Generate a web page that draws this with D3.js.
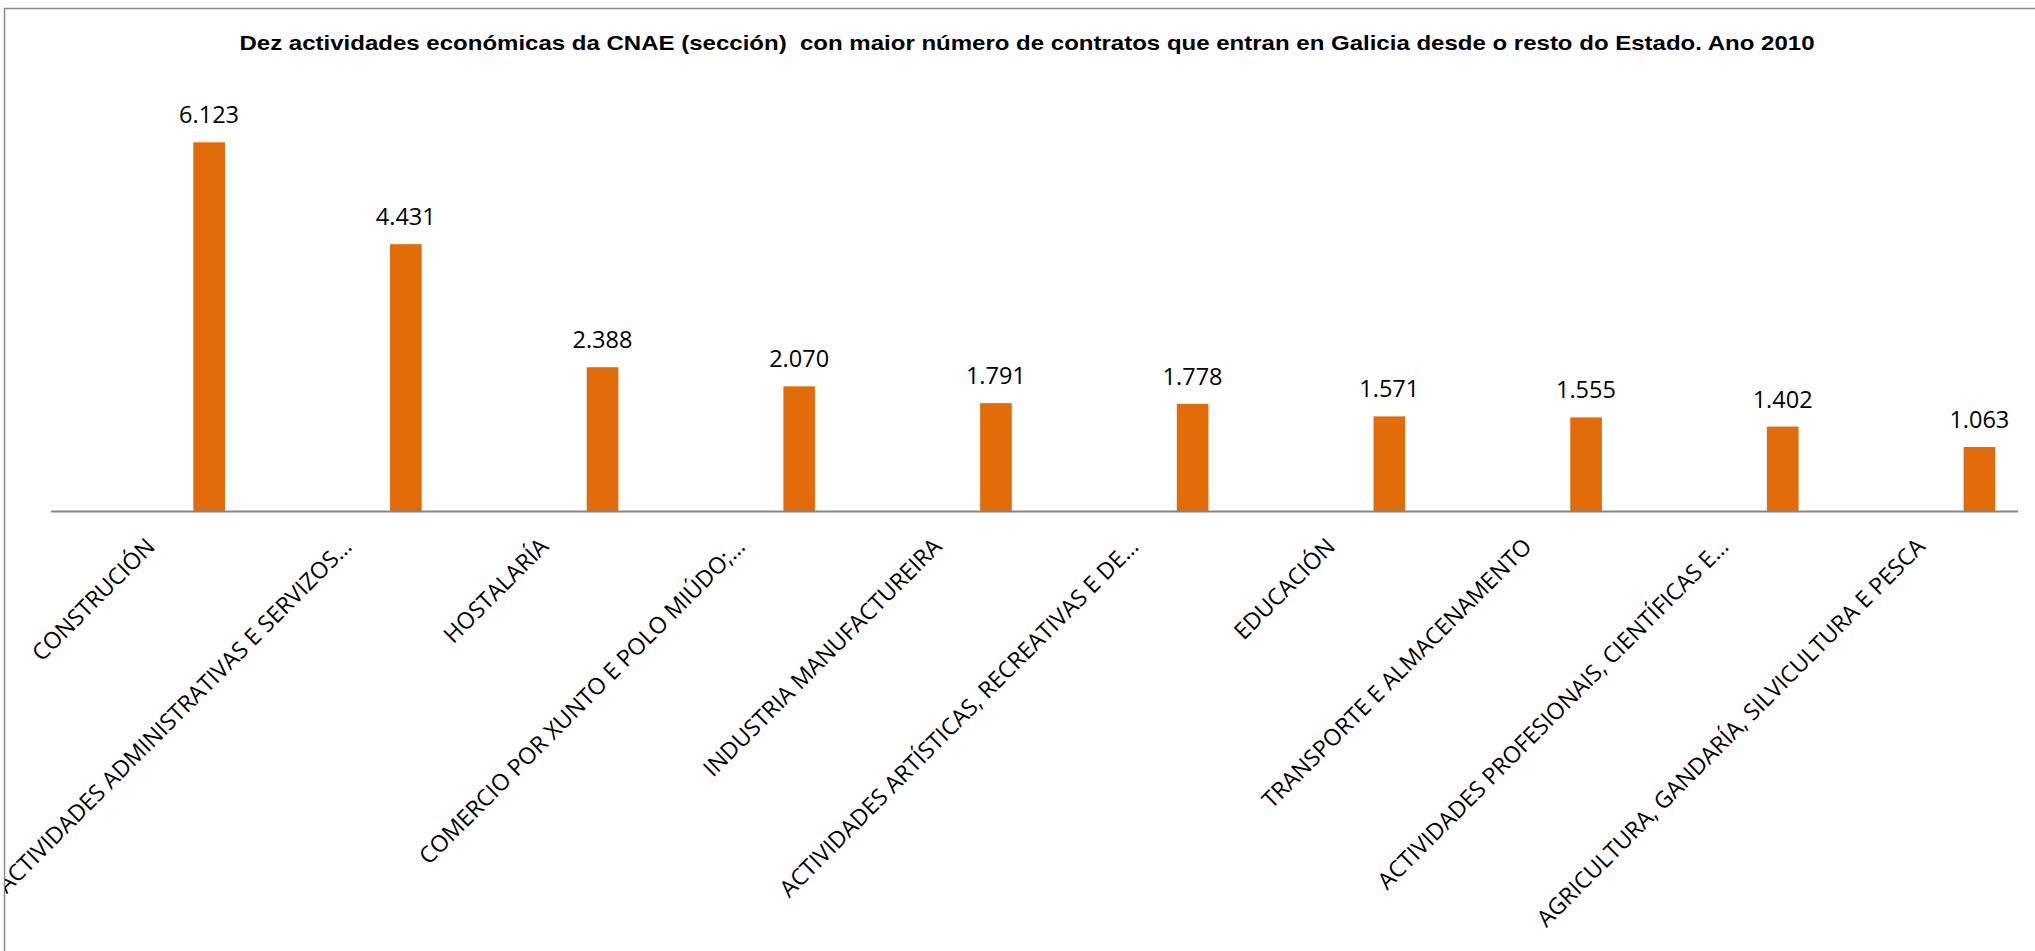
<!DOCTYPE html>
<html>
<head>
    <meta charset="UTF-8" />
    <style>
        body { margin: 0; background: #fff; }
        .title {
            font: bold 21px "Liberation Sans", Arial, sans-serif;
            fill: #000;
            white-space: pre;
        }
        .valor {
            font: 23.5px "Open Sans", sans-serif;
            text-anchor: middle;
            fill: #000;
        }
        .cat text {
            font: 23px "Open Sans", sans-serif;
            fill: #000;
        }
    </style>
    <script src="https://d3js.org/d3.v7.min.js"></script>
</head>
<body>
    <svg width="2035" height="951"></svg>
    <script>

        var categorias = [
            "CONSTRUCIÓN",
            "ACTIVIDADES ADMINISTRATIVAS E SERVIZOS…",
            "HOSTALARÍA",
            "COMERCIO POR XUNTO E POLO MIÚDO;…",
            "INDUSTRIA MANUFACTUREIRA",
            "ACTIVIDADES ARTÍSTICAS, RECREATIVAS E DE…",
            "EDUCACIÓN",
            "TRANSPORTE E ALMACENAMENTO",
            "ACTIVIDADES PROFESIONAIS, CIENTÍFICAS E…",
            "AGRICULTURA, GANDARÍA, SILVICULTURA E PESCA"
        ];
        var contratos = [6123, 4431, 2388, 2070, 1791, 1778, 1571, 1555, 1402, 1063];
        var titulo = "Dez actividades económicas da CNAE (sección)  con maior número de contratos que entran en Galicia desde o resto do Estado. Ano 2010";

        var svg = d3.select("svg"),
            width = +svg.attr("width"),
            height = +svg.attr("height");

        var datos = categorias.map(function(c, i) {
            return { cat: c, valor: contratos[i] };
        });

        // formato galego: punto como separador de miles
        var loc = d3.formatLocale({ decimal: ",", thousands: ".", grouping: [3], currency: ["", " €"] });
        var fmt = loc.format(",d");

        var x = d3.scaleBand()
                  .domain(categorias)
                  .range([51, 2018]);

        var y = d3.scaleLinear()
                  .domain([0, 7000])
                  .range([511, 89.5]);

        // marco do gráfico
        svg.append("defs").append("clipPath")
           .attr("id", "marco")
           .append("rect")
           .attr("x", 5).attr("y", 9)
           .attr("width", width).attr("height", height);

        svg.append("rect")
           .attr("x", 4.5).attr("y", 8.5)
           .attr("width", width + 50).attr("height", height + 50)
           .attr("fill", "none")
           .attr("stroke", "#8c8c8c")
           .attr("stroke-width", 1.5);

        svg.append("text")
           .attr("class", "title")
           .attr("x", 1027)
           .attr("y", 50)
           .attr("text-anchor", "middle")
           .attr("textLength", 1575)
           .attr("lengthAdjust", "spacingAndGlyphs")
           .text(titulo);

        var g = svg.append("g").attr("clip-path", "url(#marco)");

        var bw = x.bandwidth();

        g.selectAll(".barra")
         .data(datos)
         .enter().append("rect")
         .attr("class", "barra")
         .attr("x", function(d) { return x(d.cat) + bw * 0.7235; })
         .attr("width", bw * 0.161)
         .attr("y", function(d) { return y(d.valor); })
         .attr("height", function(d) { return y(0) - y(d.valor); })
         .attr("fill", "#e36c0a");

        g.selectAll(".valor")
         .data(datos)
         .enter().append("text")
         .attr("class", "valor")
         .attr("x", function(d) { return x(d.cat) + bw * 0.8035; })
         .attr("y", function(d) { return y(d.valor) - 19; })
         .text(function(d) { return fmt(d.valor); });

        // eixo horizontal
        g.append("line")
         .attr("x1", 51).attr("x2", 2018)
         .attr("y1", y(0) + 0.5).attr("y2", y(0) + 0.5)
         .attr("stroke", "#868686")
         .attr("stroke-width", 2);

        var cat = g.append("g").attr("class", "cat");
        cat.selectAll("text")
           .data(categorias)
           .enter().append("text")
           .attr("text-anchor", "end")
           .attr("transform", function(d) {
               return "translate(" + (x(d) + bw / 2 + 7) + ",548) rotate(-45)";
           })
           .text(function(d) { return d; });

    </script>
</body>
</html>
